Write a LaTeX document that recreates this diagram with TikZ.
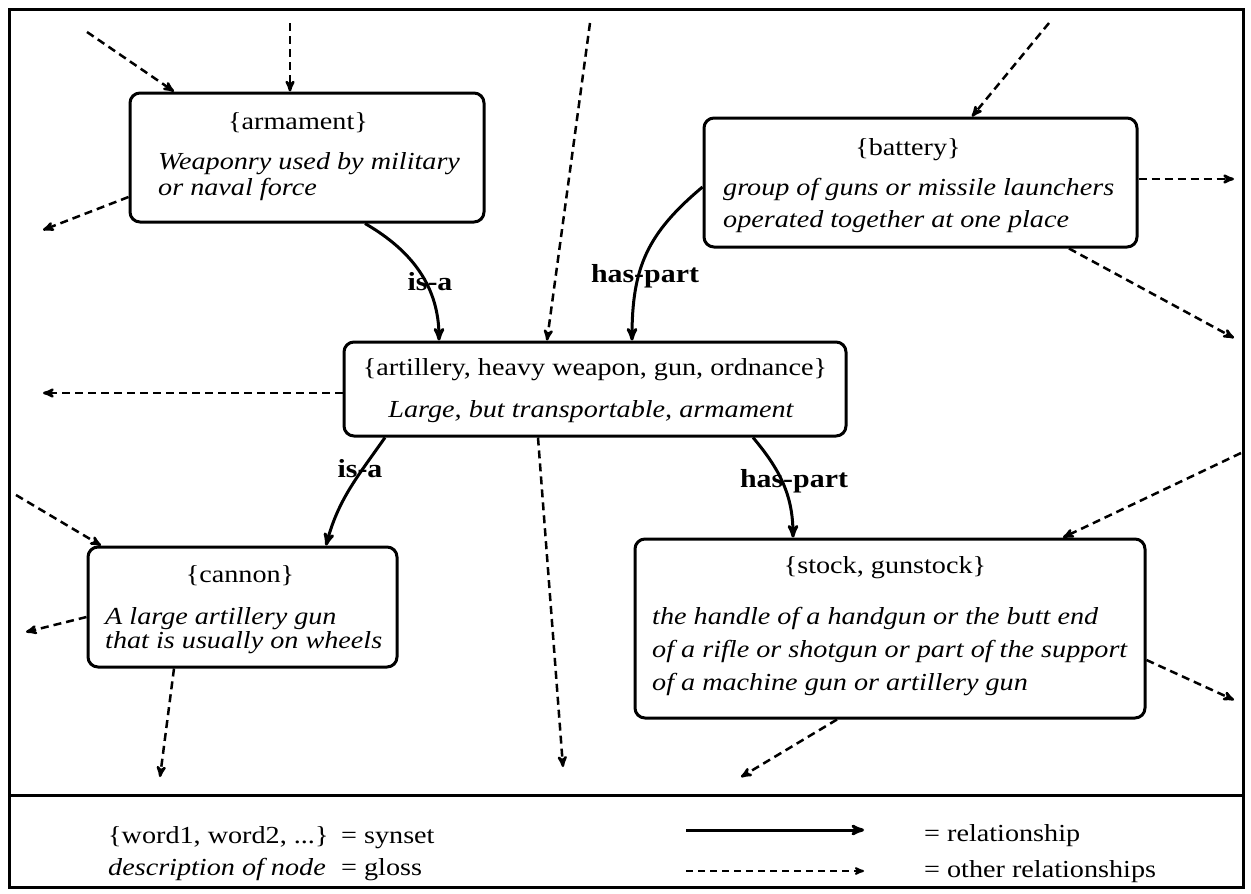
\documentclass[tikz,border=0pt]{standalone}
\usepackage{fontspec}
\setmainfont{Liberation Serif}[FakeStretch=1.15]
\usetikzlibrary{arrows}

\begin{document}
\begin{tikzpicture}[x=1pt, y=-1pt, >=stealth', line cap=butt]
\tikzstyle{synbox}=[draw, line width=3pt, rounded corners=10pt, inner sep=0pt]
\tikzstyle{syn}=[anchor=base, inner sep=0pt, font=\fontsize{24.5}{29}\selectfont]
\tikzstyle{gloss}=[anchor=base west, inner sep=0pt, font=\fontsize{24.5}{29}\selectfont\itshape]
\tikzstyle{lbl}=[anchor=base, inner sep=0pt, font=\fontsize{26}{30}\selectfont\bfseries]
\tikzstyle{rel}=[->, line width=3pt]
\tikzstyle{other}=[->, line width=2.5pt, dash pattern=on 8pt off 5pt]

\useasboundingbox (0,0) rectangle (1251,894);
\draw[line width=3pt] (9,9) rectangle (1243,887);
\draw[line width=3pt] (9,795) -- (1243,795);

% synsets
\node[synbox, minimum width=354pt, minimum height=129pt] (arm) at (307,157.5) {};
\node[syn] (armS) at (298,129) {\{armament\}};
\node[gloss] (armG1) at (158,169) {Weaponry used by military};
\node[gloss] (armG2) at (158,195) {or naval force};

\node[synbox, minimum width=433pt, minimum height=129pt] (bat) at (920.5,182.5) {};
\node[syn] (batS) at (908,155) {\{battery\}};
\node[gloss] (batG1) at (723,195) {group of guns or missile launchers};
\node[gloss] (batG2) at (723,227) {operated together at one place};

\node[synbox, minimum width=502pt, minimum height=94pt] (art) at (595,389) {};
\node[syn] (artS) at (595,375) {\{artillery, heavy weapon, gun, ordnance\}};
\node[syn, font=\fontsize{24.5}{29}\selectfont\itshape] (artG) at (591,417) {Large, but transportable, armament};

\node[synbox, minimum width=309pt, minimum height=120pt] (can) at (242.5,607) {};
\node[syn] (canS) at (240,582) {\{cannon\}};
\node[gloss] (canG1) at (105,624) {A large artillery gun};
\node[gloss] (canG2) at (105,648) {that is usually on wheels};

\node[synbox, minimum width=510pt, minimum height=179pt] (stk) at (890,628.5) {};
\node[syn] (stkS) at (885,573) {\{stock, gunstock\}};
\node[gloss] (stkG1) at (652,624) {the handle of a handgun or the butt end};
\node[gloss] (stkG2) at (652,657) {of a rifle or shotgun or part of the support};
\node[gloss] (stkG3) at (652,690) {of a machine gun or artillery gun};

% relationships
\draw[rel] ([xshift=58pt]arm.south) to[out=-30, in=90] ([xshift=-156pt]art.north);
\draw[rel] ([yshift=-4.5pt]bat.west) to[out=220, in=90, looseness=1.1] ([xshift=37pt]art.north);
\draw[rel] ([xshift=-210pt]art.south) to[out=-125, in=75] ([xshift=83.5pt]can.north);
\draw[rel] ([xshift=158pt]art.south) to[out=-50, in=90] ([xshift=-97pt]stk.north);
\node[lbl] (isa1) at (430,290) {is-a};
\node[lbl] (haspart1) at (645,282) {has-part};
\node[lbl] (isa2) at (360,477) {is-a};
\node[lbl] (haspart2) at (794,487) {has-part};

% other relationships
\coordinate (o1) at (87,32);
\coordinate (o2) at (290,23);
\coordinate (o3) at (43,230);
\coordinate (o4) at (590,23);
\coordinate (o5) at (1049,23);
\coordinate (o6) at (1234,179);
\coordinate (o7) at (1234,338);
\coordinate (o8) at (43,393);
\coordinate (o9) at (563,767);
\coordinate (o10) at (16,495);
\coordinate (o11) at (26,632);
\coordinate (o12) at (160,777);
\coordinate (o13) at (1241,453);
\coordinate (o14) at (1234,700);
\coordinate (o15) at (741,777);

\draw[other] (o1) -- ([xshift=-133pt]arm.north);
\draw[other] (o2) -- ([xshift=-17pt]arm.north);
\draw[other] ([yshift=-39.5pt]arm.west) -- (o3);
\draw[other] (o4) -- ([xshift=-48pt]art.north);
\draw[other] (o5) -- ([xshift=51.5pt]bat.north);
\draw[other] ([yshift=3.5pt]bat.east) -- (o6);
\draw[other] ([xshift=148.5pt]bat.south) -- (o7);
\draw[other] ([yshift=-4pt]art.west) -- (o8);
\draw[other] ([xshift=-57pt]art.south) -- (o9);
\draw[other] (o10) -- ([xshift=-141.5pt]can.north);
\draw[other] ([yshift=-10pt]can.west) -- (o11);
\draw[other] ([xshift=-68.5pt]can.south) -- (o12);
\draw[other] (o13) -- ([xshift=173pt]stk.north);
\draw[other] ([yshift=-31.5pt]stk.east) -- (o14);
\draw[other] ([xshift=-53pt]stk.south) -- (o15);

% legend
\node[gloss, font=\fontsize{24.5}{29}\selectfont] (keySyn) at (108,843) {\{word1, word2, ...\}};
\node[gloss, font=\fontsize{24.5}{29}\selectfont] (keySynEq) at (341,843) {= synset};
\node[gloss] (keyGloss) at (108,875) {description of node};
\node[gloss, font=\fontsize{24.5}{29}\selectfont] (keyGlossEq) at (341,875) {= gloss};
\coordinate (k1a) at (686,830);
\coordinate (k1b) at (864,830);
\coordinate (k2a) at (686,871);
\coordinate (k2b) at (864,871);
\draw[rel] (k1a) -- (k1b);
\draw[->, line width=2pt, dash pattern=on 7pt off 5pt] (k2a) -- (k2b);
\node[gloss, font=\fontsize{24.5}{29}\selectfont] (keyRel) at (924,841) {= relationship};
\node[gloss, font=\fontsize{24.5}{29}\selectfont] (keyOther) at (924,877) {= other relationships};

\end{tikzpicture}
\end{document}
